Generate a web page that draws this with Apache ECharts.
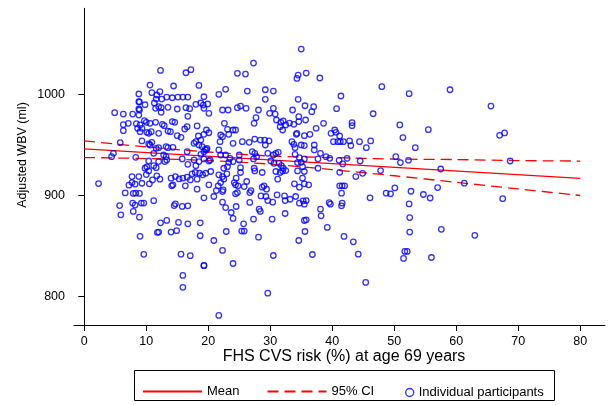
<!DOCTYPE html>
<html>
<head>
<meta charset="utf-8">
<title>Adjusted WBV vs FHS CVS risk</title>
<script src="https://cdn.jsdelivr.net/npm/echarts@6/dist/echarts.min.js"></script>
<style>
  html, body { margin: 0; padding: 0; background: #fff; }
  #chart { width: 610px; height: 405px; }
</style>
</head>
<body>
<div id="chart"></div>
<script>
// tick labels
var xTicks = [0, 10, 20, 30, 40, 50, 60, 70, 80];
var yTicks = [800, 900, 1000];

// fitted mean line (read at both ends)
var meanX = [0, 80];
var meanY = [946, 917];

// 95% CI band, read every 10 units
var ciX = [0, 10, 20, 30, 40, 50, 60, 70, 80];
var ciUpper = [954, 948, 943, 939, 937.5, 936, 935.5, 934.5, 934];
var ciLower = [937.5, 936.5, 934.5, 931, 925.5, 919.5, 913, 906.5, 900];

// individual participants: [FHS CVS risk %, adjusted WBV ml]
var participants = [
  [12.3,1023.6],[16.4,1021.3],[17.2,1024.3],[10.6,1009.1],[14.4,1008.2],[18.5,1008.8],[8.8,1000.3],[10.9,1001.6],
  [12.2,1002.6],[11.7,999.3],[11.6,995.3],[12.5,995.3],[13.3,997.3],[14.2,996.6],[15.1,997.3],[15.9,997.3],
  [16.7,997.3],[8.8,992.7],[8.9,992.4],[9.8,989.7],[11.3,991.4],[12.0,987.8],[11.5,986.1],[12.4,986.8],
  [13.5,987.1],[15.0,985.5],[16.4,986.8],[17.0,985.8],[18.0,990.1],[18.8,991.4],[19.2,989.4],[8.8,985.5],
  [8.9,984.5],[4.9,981.8],[6.3,980.5],[7.8,980.5],[8.8,979.5],[12.4,982.2],[16.7,978.2],[6.3,970],
  [7.1,971.3],[6.3,964.1],[8.4,971],[9.0,969.7],[9.7,973.9],[10.0,972.3],[10.6,971.3],[11.5,972.3],
  [10.8,963.1],[10.1,962.4],[10.4,961.4],[9.0,963.1],[9.3,966.4],[8.6,966.4],[12.6,970.3],[12.9,969],
  [13.5,963.7],[14.2,973],[14.6,972.3],[13.9,963.1],[12.0,961.4],[15.0,959.1],[15.6,957.5],[16.2,965.7],
  [16.6,968],[18.2,968.7],[18.4,958.8],[18.8,954.8],[18.0,953.2],[17.7,951.6],[18.5,949.9],[19.0,948.3],
  [19.5,945.6],[19.8,946.6],[19.3,943.3],[18.8,940.7],[5.8,952.2],[9.3,953.9],[10.6,949.9],[10.4,950.9],
  [10.9,952.5],[11.6,946.6],[12.0,947.3],[11.2,941.7],[13.2,948.3],[13.5,947.3],[14.3,947.6],[16.6,943.3],
  [4.7,941.7],[4.4,938.4],[8.3,937.7],[10.4,934.1],[10.1,928.2],[11.2,929.5],[11.6,927.5],[9.8,926.9],
  [12.8,940],[13.2,938.4],[13.3,935.1],[13.0,933.5],[15.8,936.1],[16.7,930.8],[17.7,935.1],[18.0,929.5],
  [18.5,933.5],[12.0,933.5],
  [35.0,1044.7],[27.3,1030.9],[24.7,1020.7],[26.0,1020.0],[34.3,1015.7],[34.5,1019],[35.8,1021],[38.0,1016.1],
  [22.8,1004.9],[21.7,1000],[26.3,1003.2],[29.2,1004.5],[30.5,1003.2],[29.2,995],[34.5,995],[35.6,988.7],
  [37.0,987.8],[36.7,982.8],[38.6,971.3],[19.3,997.6],[19.9,990.4],[19.3,986.1],[20.1,981.2],[22.3,984.5],
  [23.2,984.5],[24.7,986.8],[25.2,988.4],[26.1,986.1],[28.1,984.5],[27.7,976.9],[27.4,971.3],[29.9,981.2],
  [30.5,986.1],[30.8,980.5],[31.0,974.6],[31.7,972.3],[32.1,973.6],[31.6,968],[32.0,964.7],[32.5,969.7],
  [33.1,971.6],[33.8,970.3],[34.6,973],[33.6,984.5],[34.6,977.9],[35.7,974.6],[34.3,961.4],[34.2,960.4],
  [35.5,959.1],[36.4,960.4],[37.4,966.4],[37.1,945],[38.1,941.7],[39.0,938.4],[39.6,936.7],[22.6,971.3],
  [24.0,964.7],[24.4,964.7],[23.3,960.4],[23.1,965.4],[22.0,959.8],[21.9,953.2],[22.3,958.1],[20.1,962],
  [19.7,964.7],[19.3,960.4],[24.0,951.6],[25.5,953.2],[26.6,952.5],[27.5,955.8],[28.4,954.8],[29.2,949.9],
  [29.8,953.9],[29.1,954.8],[33.5,953.2],[33.8,950.6],[34.0,947.3],[35.0,949.9],[35.5,949.3],[37.1,949.9],
  [19.7,945],[21.7,945],[22.0,940],[22.8,940],[23.5,936.7],[23.3,932.8],[24.0,933.5],[25.0,940],
  [25.0,935],[27.1,943.3],[27.5,941.7],[27.8,938.4],[27.3,936.1],[29.6,941.7],[30.5,940],[30.9,941.7],
  [31.3,942.7],[30.1,934.1],[30.6,931.8],[31.4,931.8],[31.8,929.5],[32.1,926.9],[34.0,940.7],[34.7,937.4],
  [34.4,932.5],[35.0,932.8],[35.5,936.1],[35.2,928.5],[37.7,936.1],[20.3,935.1],[20.1,934.1],[19.3,936.1],
  [22.5,926.9],[23.1,928.5],[25.2,927.5],[27.4,926.9],[37.7,926.9],
  [48.0,1007.5],[41.4,998.3],[52.4,1000.6],[59.0,1004.5],[40.7,985.8],[46.6,980.8],[43.2,972],[43.2,969],
  [50.9,969.7],[55.5,965],[40.4,964.7],[40.6,962.4],[39.8,961.4],[41.2,958.8],[40.2,953.2],[40.9,953.2],
  [41.3,953.2],[41.8,953.2],[42.8,953.9],[43.0,949.3],[44.4,953.2],[46.2,953.9],[45.5,947.3],[51.4,957.2],
  [53.4,947.3],[50.25,938.4],[51.0,932.5],[52.3,934.8],[41.1,934.8],[41.7,931.2],[42.4,936.7],[44.5,934.1],
  [41.2,922.9],[44.9,921.9],[47.8,924.6],[57.5,926.2],
  [65.6,988.4],[67.0,959.5],[67.8,961.8],[68.7,934.1],
  [2.3,911.8],[7.7,918.7],[8.8,918.7],[10.0,920.7],[10.4,924.3],[11.7,919.4],[11.0,915.4],[12.2,916.1],
  [10.5,911.5],[9.3,912.1],[8.2,911.2],[7.7,912.8],[7.2,910.2],[6.6,902.5],[7.9,902],[8.3,902.3],
  [8.9,902],[11.2,894.9],[5.7,890],[5.9,880.9],[7.8,892.5],[8.2,890.5],[7.9,884.2],[9.2,892.5],
  [9.6,892.5],[8.9,878.6],[9.0,859.6],[9.6,841.8],[14.0,917.1],[14.7,918.7],[15.3,916.4],[15.9,917.1],
  [16.6,918.1],[17.4,921.4],[17.9,922.7],[18.6,922],[19.1,920.4],[18.2,916.1],[17.1,915.4],[16.3,909.5],
  [14.1,909.5],[14.3,910.5],[18.2,906.2],[19.3,897.7],[12.3,873],[13.3,875.4],[11.8,863.5],[12.0,863.8],
  [14.0,863.8],[14.9,865.2],[15.2,873.4],[14.5,890],[14.7,891.8],[15.8,889.2],[16.7,889.8],[16.7,872],
  [15.6,842],[17.1,840.5],[15.9,821],[15.9,809.2],[18.7,873],[18.7,860.2],[19.3,830.6],
  [19.6,922.0],[20.4,923.7],[20.1,910.5],[21.7,920.4],[22.3,918.7],[23.0,921.4],[22.5,916.1],[22.0,912.8],
  [21.6,909.5],[21.3,904.9],[20.9,899.0],[22.3,903.9],[22.4,905.6],[24.2,912.8],[24.4,910.5],[24.8,909.5],
  [24.5,917.1],[25.2,922.7],[25.8,908.8],[26.2,913.8],[27.5,924.3],[28.7,922.7],[30.9,923.7],[31.6,922.7],
  [32.0,924.3],[31.2,916.1],[32.5,924.6],[34.4,924.3],[35.5,923.7],[35.2,917.1],[33.9,911.5],[34.7,908.2],
  [35.5,911.5],[36.2,910.5],[28.7,908.2],[29.0,909.5],[29.4,906.2],[28.5,899.6],[29.3,899.0],[29.6,895.0],
  [30.4,893.4],[31.1,900.6],[32.3,899.6],[32.4,895.0],[33.2,896.3],[34.1,899.0],[34.7,892.4],[35.3,894.7],
  [35.8,895.0],[35.5,891.4],[26.7,902.9],[26.9,904.9],[24.7,902.9],[24.4,901.6],[39.5,893.0],[39.7,891.4],
  [38.1,886.5],[38.2,879.9],[39.2,868.4],[35.8,875.9],[35.5,875.3],[35.6,864.4],[34.6,855.5],[36.8,841.7],
  [32.4,882.2],[30.3,876.6],[28.1,858.8],[27.3,876.6],[28.2,886.5],[28.4,884.2],[26.7,893.1],[25.7,872],
  [25.4,864.8],[25.8,864.8],[24.0,877.3],[24.5,889.1],[23.7,883.2],[22.3,893.4],[22.8,888.1],[22.9,864.4],
  [20.9,855.5],[22.3,845.7],[24.0,832.8],[19.3,830.9],[29.6,803.5],[21.7,781.5],[30.5,840.7],
  [43.8,918.7],[41.2,909.5],[41.6,909.5],[42.0,909.5],[41.5,902.3],[41.6,892.4],[41.5,889.8],[46.1,897.7],
  [48.7,902.3],[49.4,901.6],[50.1,907.5],[52.7,904.2],[54.7,901.0],[55.8,897.5],[57.0,907.8],[52.4,891.7],
  [52.5,878.2],[52.5,863.8],[57.6,866.6],[41.9,859.5],[43.4,854.2],[44.2,842.0],[51.7,844.7],[52.1,844.7],
  [51.5,837.8],[56.0,838.7],[45.4,814.1],
  [61.3,912.2],[67.5,896.8],[63.0,860.6]
];

function zip(xs, ys) {
  var out = [];
  for (var i = 0; i < xs.length; i++) out.push([xs[i], ys[i]]);
  return out;
}

var font = 'Liberation Sans, Arial, Helvetica, sans-serif';
var red = '#ff0000';
var blue = '#0000ff';

var myChart = echarts.init(document.getElementById('chart'), null, {renderer: 'canvas'});
myChart.setOption({
  animation: false,
  backgroundColor: '#fff',
  grid: {left: 74, right: 5, top: 8.3, bottom: 80},
  xAxis: {
    type: 'value',
    min: -1.66,
    max: 84,
    axisLine: {show: true, lineStyle: {color: '#000', width: 1}},
    axisTick: {show: true, length: 6, customValues: xTicks, lineStyle: {color: '#000'}},
    axisLabel: {customValues: xTicks, margin: 10, color: '#000', fontSize: 12.5, fontFamily: font},
    splitLine: {show: false}
  },
  yAxis: {
    type: 'value',
    min: 772,
    max: 1085,
    axisLine: {show: true, lineStyle: {color: '#000', width: 1}},
    axisTick: {show: true, length: 6, customValues: yTicks, lineStyle: {color: '#000'}},
    axisLabel: {
      customValues: yTicks, margin: 9, color: '#000', fontSize: 12.5, fontFamily: font,
      formatter: function (v) { return String(v); }
    },
    splitLine: {show: false}
  },
  legend: [
    {
      data: ['Mean', '95% CI'],
      left: 137,
      top: 380,
      itemWidth: 59,
      itemHeight: 10,
      itemGap: 27,
      itemStyle: {color: 'transparent', borderColor: 'transparent', borderWidth: 0},
      textStyle: {color: '#000', fontSize: 13, fontFamily: font}
    },
    {
      data: ['Individual participants'],
      left: 400,
      top: 381,
      itemWidth: 8,
      itemHeight: 8,
      itemStyle: {color: 'transparent', borderColor: blue, borderWidth: 1.4},
      textStyle: {color: '#000', fontSize: 13, fontFamily: font}
    }
  ],
  graphic: [
    {
      type: 'rect',
      shape: {x: 134.5, y: 370.5, width: 420, height: 30},
      style: {fill: 'none', stroke: '#000', lineWidth: 1}
    },
    {
      type: 'text',
      x: 344, y: 357,
      style: {text: 'FHS CVS risk (%) at age 69 years', fill: '#000', font: '16px ' + font,
              textAlign: 'center', textVerticalAlign: 'middle'}
    },
    {
      type: 'text',
      x: 23, y: 155,
      rotation: Math.PI / 2,
      style: {text: 'Adjusted WBV (ml)', fill: '#000', font: '12.5px ' + font,
              textAlign: 'center', textVerticalAlign: 'middle'}
    }
  ],
  series: [
    {
      name: 'Mean',
      type: 'line',
      data: zip(meanX, meanY),
      symbol: 'none',
      lineStyle: {color: red, width: 1.3},
      itemStyle: {color: red},
      z: 2
    },
    {
      name: '95% CI',
      type: 'line',
      data: zip(ciX, ciUpper),
      symbol: 'none',
      smooth: 0.3,
      lineStyle: {color: red, width: 1.3, type: [11, 6]},
      itemStyle: {color: red},
      z: 2
    },
    {
      name: '95% CI',
      type: 'line',
      data: zip(ciX, ciLower),
      symbol: 'none',
      smooth: 0.3,
      lineStyle: {color: red, width: 1.3, type: [11, 6]},
      itemStyle: {color: red},
      z: 2
    },
    {
      name: 'Individual participants',
      type: 'scatter',
      data: participants,
      symbol: 'circle',
      symbolSize: 5.5,
      itemStyle: {color: 'transparent', borderColor: blue, borderWidth: 1.3},
      z: 3
    }
  ]
});
</script>
</body>
</html>
